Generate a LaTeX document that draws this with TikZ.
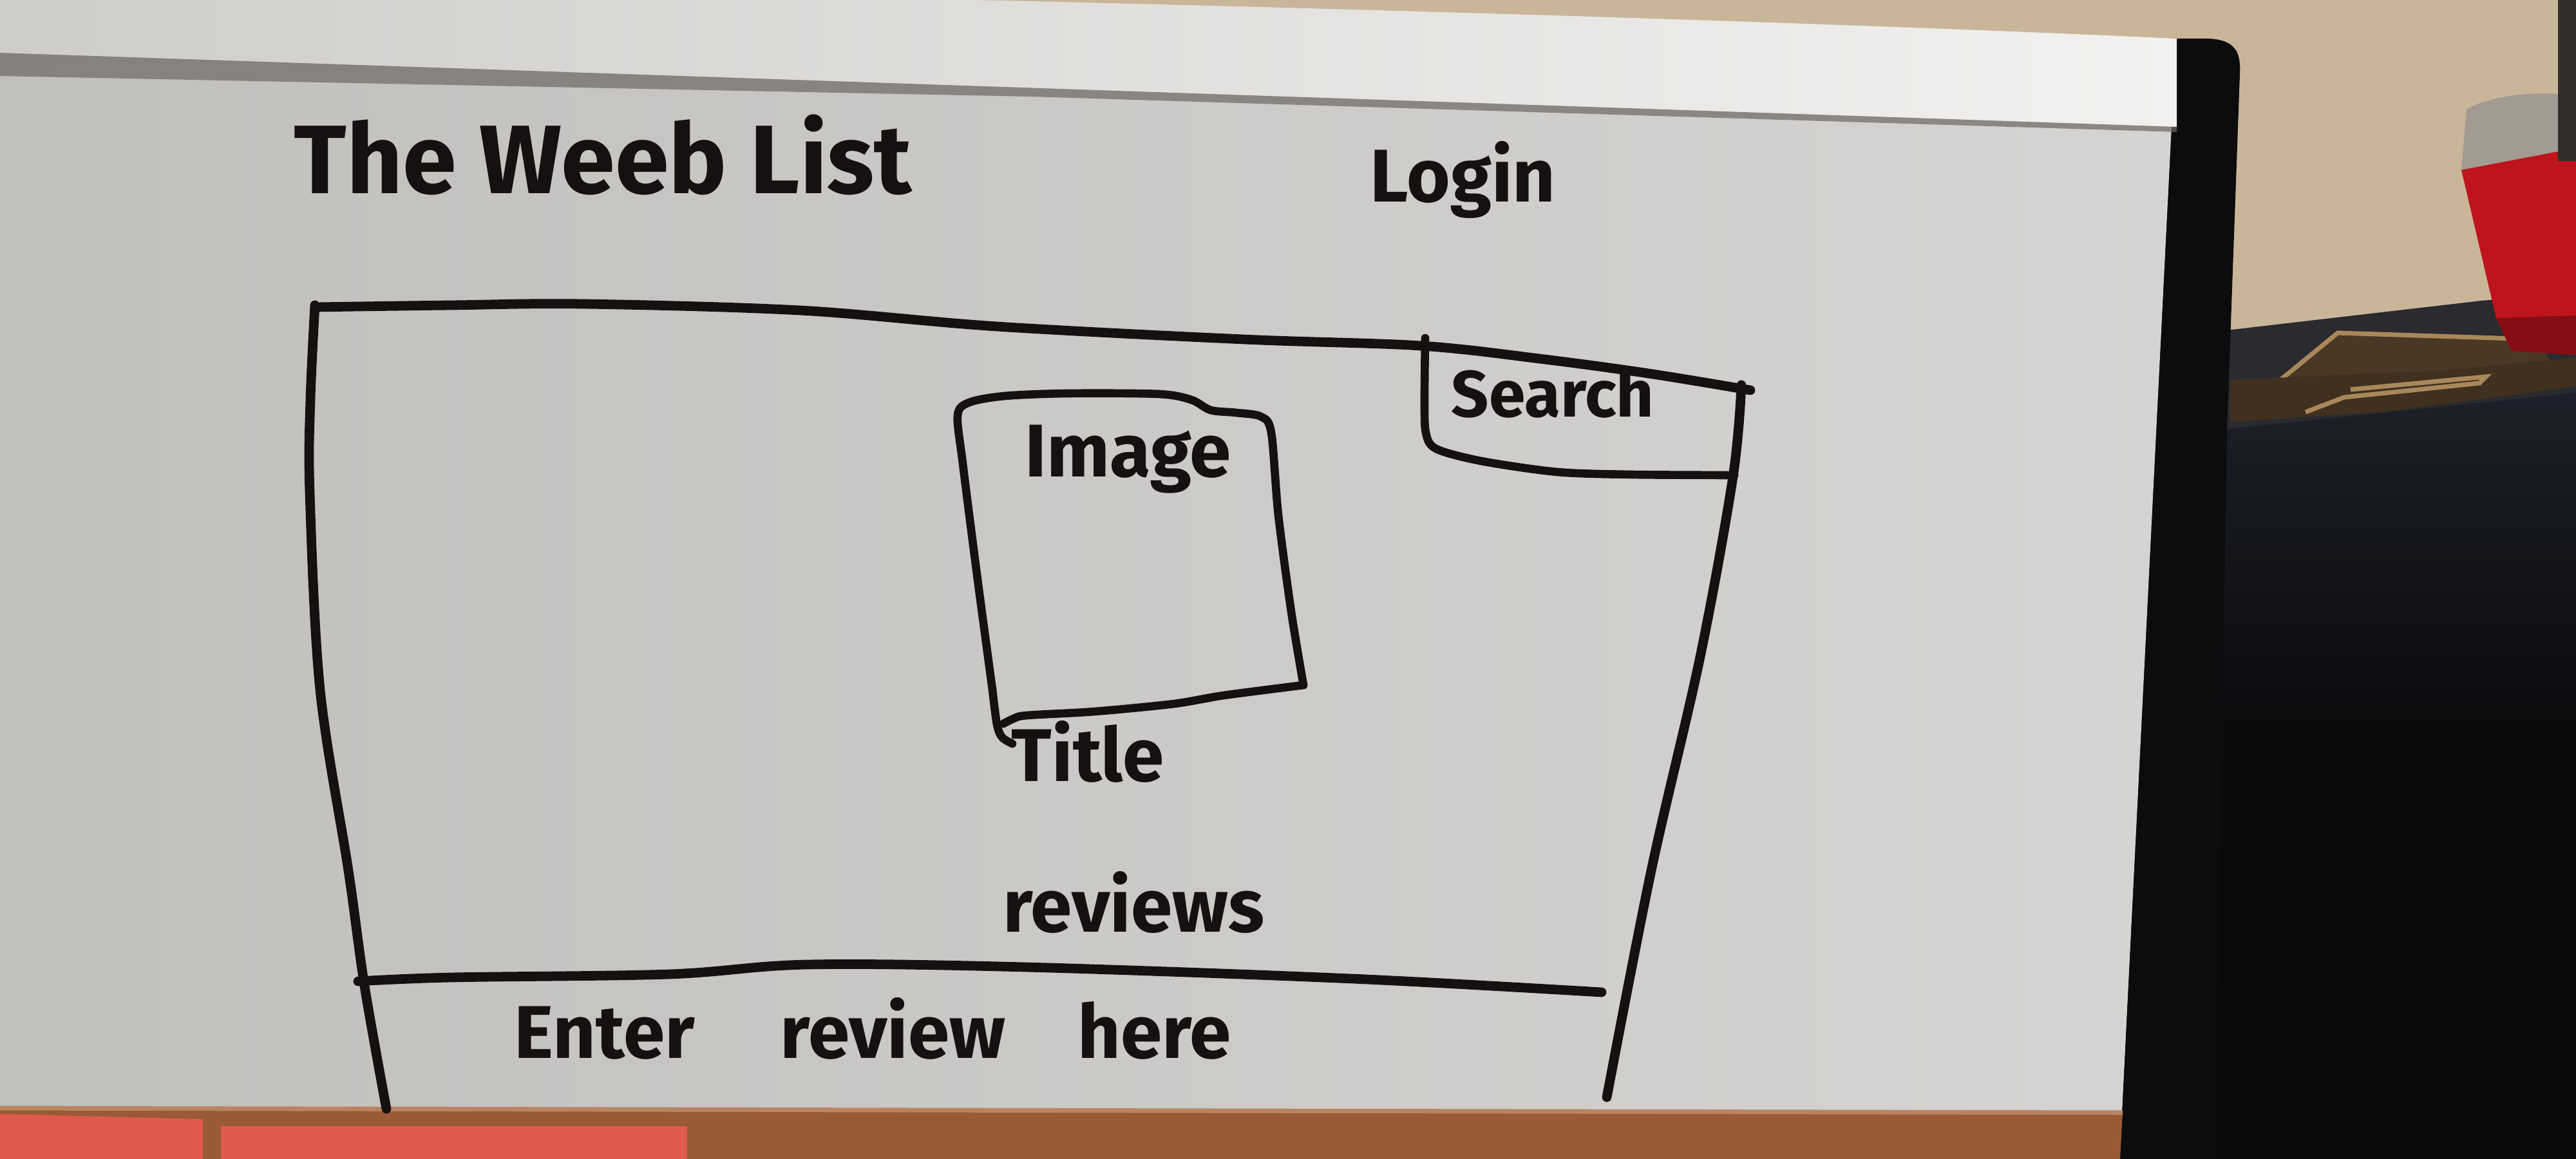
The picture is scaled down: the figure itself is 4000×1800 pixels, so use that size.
\documentclass[tikz,border=0pt]{standalone}
\usepackage{fontspec}
\setmainfont{Fira Sans}
\definecolor{wallc}{HTML}{C9B699}
\definecolor{inkc}{HTML}{141110}
\definecolor{boardL}{HTML}{C0BFBC}
\definecolor{boardR}{HTML}{D5D4D2}
\definecolor{stripL}{HTML}{CFCDCA}
\definecolor{stripM}{HTML}{E6E4E1}
\definecolor{stripR}{HTML}{F2F1EF}
\definecolor{shadowc}{HTML}{6E6863}
\definecolor{framec}{HTML}{0C0C0E}
\definecolor{cabtop}{HTML}{1D202A}
\definecolor{cabbot}{HTML}{0A0A0C}
\definecolor{shelfc}{HTML}{2A2A2F}
\definecolor{cardc}{HTML}{4A3826}
\definecolor{cardedge}{HTML}{A9875A}
\definecolor{redc}{HTML}{BE141C}
\definecolor{capc}{HTML}{A39A92}
\definecolor{corkc}{HTML}{995A35}
\definecolor{corkedge}{HTML}{B98462}
\definecolor{notec}{HTML}{DE5A4C}
\begin{document}
\begin{tikzpicture}[x=0.01cm,y=-0.01cm,
  ink/.style={draw=inkc,line width=4.2pt,line cap=round,line join=round},
  thinink/.style={draw=inkc,line width=3.6pt,line cap=round,line join=round},
  hand/.style={inner sep=0pt,anchor=base west,text=inkc,font=\bfseries}]
\useasboundingbox (0,0) rectangle (4000,1800);

% wall behind everything
\fill[wallc] (0,0) rectangle (4000,1800);

% shelf back, cardboard and cabinet on the right
\fill[shelfc] (3440,515) -- (3853,467) -- (4000,455) -- (4000,640) -- (3440,690) -- cycle;
\fill[cardc] (3541,590) -- (3630,517) -- (3938,527) -- (3960,560) -- (3700,600) -- cycle;
\draw[cardedge,line width=2pt] (3541,590) -- (3630,517) -- (3938,527);
\fill[cardc!85!black] (3463,590) -- (3800,575) -- (4000,555) -- (4000,600) -- (3700,640) -- (3463,655) -- cycle;
\draw[cardedge,line width=2pt] (3580,640) -- (3640,617) -- (3850,595) -- (3860,585) -- (3650,605);
\shade[top color=cabtop,bottom color=cabbot] (3440,668) -- (4000,610) -- (4000,1150) -- (3440,1150) -- cycle;
\fill[cabbot] (3440,1149) rectangle (4000,1800);

% red canister with its clear cap
\fill[capc] (3822,264) -- (3830,170) .. controls (3870,145) and (3960,140) .. (4000,150) -- (4000,250) -- cycle;
\fill[redc] (3822,264) -- (4000,230) -- (4000,551) -- (3900,545) -- (3876,494) -- cycle;
\fill[redc!70!black] (3876,494) -- (3900,545) -- (4000,551) -- (4000,490) -- cycle;
\fill[framec!80!wallc] (3972,0) rectangle (4000,250);

% black frame on the right edge of the board
\fill[framec] (3370,60) -- (3430,60) .. controls (3470,62) and (3480,80) .. (3478,115)
  -- (3458,668) -- (3440,1800) -- (3290,1800) -- (3295,1725) -- (3370,200) -- cycle;

% board surface
\shade[left color=boardL,right color=boardR] (0,80) -- (3372,195) -- (3295,1725) -- (0,1720) -- cycle;

% aluminium top rail and its shadow
\shade[left color=stripL,middle color=stripM,right color=stripR]
  (0,0) -- (1515,0) .. controls (2300,18) and (3000,42) .. (3380,60) -- (3380,197) -- (0,82) -- cycle;
\fill[shadowc,opacity=0.7] (0,82) -- (3380,197) -- (3380,205) -- (1600,150) -- (0,118) -- cycle;

% cork strip and sticky notes along the bottom
\fill[corkc] (0,1720) -- (3296,1727) -- (3292,1800) -- (0,1800) -- cycle;
\draw[corkedge,line width=2pt] (0,1721) -- (3296,1728);
\fill[notec] (0,1730) -- (315,1738) -- (315,1800) -- (0,1800) -- cycle;
\fill[notec] (343,1749) -- (1067,1749) -- (1067,1800) -- (343,1800) -- cycle;

% page outline
\draw[ink] plot[smooth,tension=0.55] coordinates {(489,477) (700,474) (905,472) (1242,482) (1548,507) (1931,527) (2206,537) (2390,557) (2560,580) (2718,606)};
\draw[ink] plot[smooth,tension=0.55] coordinates {(2704,598) (2691,740) (2640,1020) (2564,1352) (2495,1704)};
\draw[ink] plot[smooth,tension=0.55] coordinates {(489,474) (482,620) (481,765) (497,1071) (541,1352) (566,1531) (600,1722)};
\draw[ink] plot[smooth,tension=0.55] coordinates {(556,1524) (700,1518) (1039,1513) (1254,1498) (1593,1502) (2100,1520) (2487,1541)};

% search field
\draw[thinink] plot[smooth,tension=0.5] coordinates {(2213,525) (2212,620) (2214,672) (2230,697) (2300,716) (2418,733) (2533,737) (2693,738)};

% image placeholder
\draw[thinink] plot[smooth,tension=0.5] coordinates {(1541,1071) (1518,900) (1495,720) (1487,645) (1505,625) (1560,615) (1657,611) (1800,612) (1850,621) (1880,637) (1920,641) (1958,647) (1974,672) (1985,800) (2005,950) (2024,1064)};
\draw[thinink] plot[smooth,tension=0.5] coordinates {(2024,1064) (1900,1080) (1823,1093) (1700,1105) (1595,1111) (1574,1116) (1558,1124)};
\draw[thinink] plot[smooth,tension=0.5] coordinates {(1541,1071) (1548,1125) (1556,1145) (1572,1155)};

% labels
\node[hand,font=\bfseries\fontsize{43}{52}\selectfont] (sitename) at (456,300) {The Weeb List};
\node[hand,font=\bfseries\fontsize{33}{40}\selectfont] (login) at (2127,313) {Login};
\node[hand,font=\bfseries\fontsize{29}{35}\selectfont] (search) at (2253,647) {Search};
\node[hand,font=\bfseries\fontsize{33}{40}\selectfont] (image) at (1591,740) {Image};
\node[hand,font=\bfseries\fontsize{33}{40}\selectfont] (titlelbl) at (1570,1213) {Title};
\node[hand,font=\bfseries\fontsize{33}{40}\selectfont] (reviews) at (1557,1447) {reviews};
\node[hand,font=\bfseries\fontsize{33}{40}\selectfont] (enter) at (798,1643) {Enter\hspace{30pt} review\hspace{24pt} here};
\end{tikzpicture}
\end{document}
